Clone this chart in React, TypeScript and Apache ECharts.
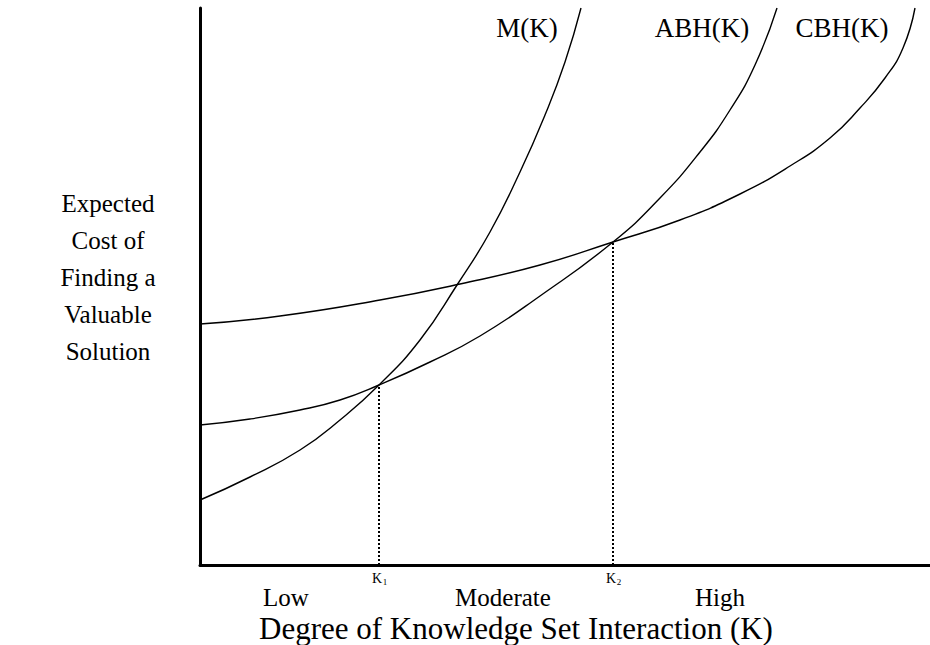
import React, { useEffect, useRef } from "react";
import * as echarts from "echarts";

// Curve points (x: knowledge interaction, y: expected cost)
const mX = [0, 5, 10, 14, 17.9, 22, 25.7, 29, 32, 34.5, 36.5, 38.1];
const mY = [6.5, 8.8, 11.5, 14.5, 18.0, 22.5, 28.0, 33.3, 39.3, 45.0, 50.3, 55.7];

const abhX = [0, 5, 10, 14, 17.9, 23, 28, 34, 41.3, 46, 50, 53, 55.5, 57.7];
const abhY = [14.0, 14.6, 15.5, 16.5, 18.0, 20.3, 22.9, 26.9, 32.3, 36.7, 41.3, 45.5, 50.0, 55.7];

const cbhX = [0, 8, 18, 26, 34, 41.3, 48, 54, 59, 63, 66, 68.5, 70.3, 71.5];
const cbhY = [24.1, 24.9, 26.5, 28.1, 30.0, 32.3, 34.5, 37.1, 39.9, 42.7, 45.7, 48.7, 51.7, 55.7];

const kMarks = [
  { name: "K", sub: "1", x: 17.9, y: 18.0 },
  { name: "K", sub: "2", x: 41.3, y: 32.3 },
];

const curveLabels = ["M(K)", "ABH(K)", "CBH(K)"];
const levelLabels = ["Low", "Moderate", "High"];
const yTitle = "Expected\nCost of\nFinding a\nValuable\nSolution";
const xTitle = "Degree of Knowledge Set Interaction (K)";

const zip = (xs: number[], ys: number[]) => xs.map((x, i) => [x, ys[i]]);

const FONT = "Liberation Serif, Times New Roman, serif";

export default function App() {
  const ref = useRef<HTMLDivElement>(null);
  useEffect(() => {
    if (!ref.current) return;
    const chart = echarts.init(ref.current, null, { renderer: "svg" });
    const curveStyle = { color: "#000", width: 1.4 };
    const series: any[] = [
      { name: curveLabels[0], type: "line", data: zip(mX, mY), smooth: true, symbol: "none", lineStyle: curveStyle },
      { name: curveLabels[1], type: "line", data: zip(abhX, abhY), smooth: true, symbol: "none", lineStyle: curveStyle },
      { name: curveLabels[2], type: "line", data: zip(cbhX, cbhY), smooth: true, symbol: "none", lineStyle: curveStyle },
      ...kMarks.map((k) => ({
        type: "line",
        data: [[k.x, 0], [k.x, k.y]],
        symbol: "none",
        lineStyle: { color: "#000", width: 2, type: [2, 2] },
      })),
    ];
    const txt = (text: string, x: number, y: number, size: number, extra: any = {}) => ({
      type: "text",
      x,
      y,
      style: {
        text,
        fontFamily: FONT,
        fontSize: size,
        fill: "#000",
        textAlign: "center",
        textVerticalAlign: "middle",
        ...extra,
      },
    });
    const graphic: any[] = [
      txt(curveLabels[0], 527, 28, 27),
      txt(curveLabels[1], 702, 28, 27),
      txt(curveLabels[2], 842, 28, 27),
      txt(yTitle, 108, 277, 25, { lineHeight: 37 }),
      txt(levelLabels[0], 286, 597, 25),
      txt(levelLabels[1], 503, 597, 25),
      txt(levelLabels[2], 720, 597, 25),
      txt(xTitle, 516, 628, 31),
      txt(kMarks[0].name, 377, 578, 14),
      txt(kMarks[0].sub, 385, 582, 9),
      txt(kMarks[1].name, 611, 578, 14),
      txt(kMarks[1].sub, 619, 582, 9),
    ];
    chart.setOption({
      animation: false,
      grid: { left: 200, right: 0, top: 8, bottom: 80 },
      xAxis: {
        type: "value",
        min: 0,
        max: 73,
        axisLine: { show: true, lineStyle: { color: "#000", width: 3 } },
        axisTick: { show: false },
        axisLabel: { show: false },
        splitLine: { show: false },
      },
      yAxis: {
        type: "value",
        min: 0,
        max: 55.7,
        axisLine: { show: true, lineStyle: { color: "#000", width: 3 } },
        axisTick: { show: false },
        axisLabel: { show: false },
        splitLine: { show: false },
      },
      series,
      graphic,
    });
    return () => chart.dispose();
  }, []);
  return (
    <div
      ref={ref}
      style={{ position: "fixed", left: 0, top: 0, width: 930, height: 645, background: "#fff" }}
    />
  );
}
